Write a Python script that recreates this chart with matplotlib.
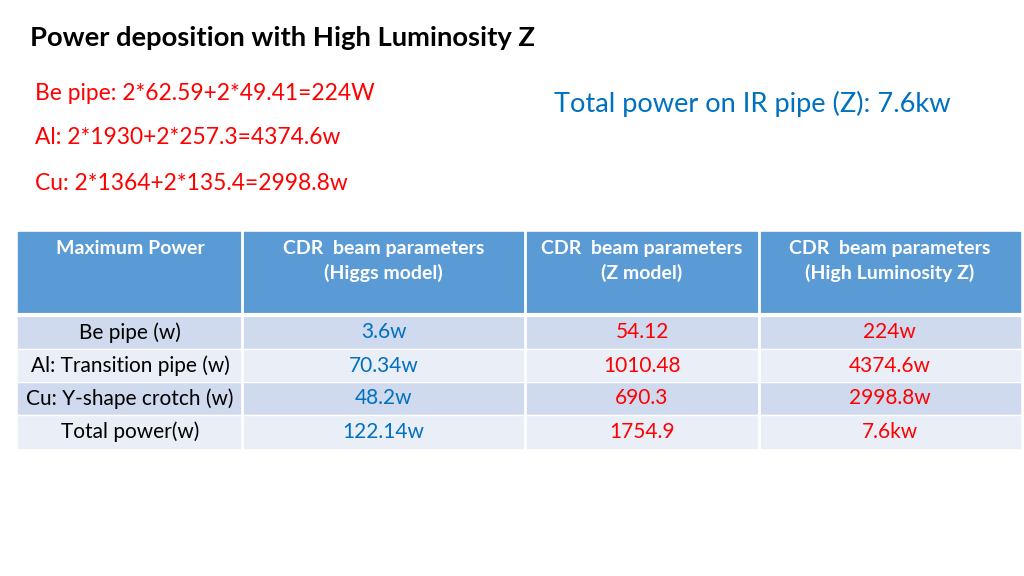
import matplotlib
matplotlib.use("Agg")
import matplotlib.pyplot as plt
from matplotlib.patches import Rectangle

title = "Power deposition with High Luminosity Z"
notes = ["Be pipe: 2*62.59+2*49.41=224W", "Al: 2*1930+2*257.3=4374.6w", "Cu: 2*1364+2*135.4=2998.8w"]
total_note = "Total power on IR pipe (Z): 7.6kw"
headers = ["CDR  beam parameters\n(Higgs model)", "CDR  beam parameters\n(Z model)", "CDR  beam parameters\n(High Luminosity Z)"]
first_header = "Maximum Power"
row_labels = ["Be pipe (w)", "Al: Transition pipe (w)", "Cu: Y-shape crotch (w)", "Total power(w)"]
higgs = ["3.6w", "70.34w", "48.2w", "122.14w"]
zmodel = ["54.12", "1010.48", "690.3", "1754.9"]
hlz = ["224w", "4374.6w", "2998.8w", "7.6kw"]

FONT = "Lato"
fig = plt.figure(figsize=(10.24, 5.76), dpi=100)
ax = fig.add_axes([0, 0, 1, 1])
ax.set_xlim(0, 1024); ax.set_ylim(576, 0); ax.axis("off")

ax.text(30, 38, title, fontsize=19.7, fontweight="bold", family=FONT, va="center")
for i, n in enumerate(notes):
    ax.text(35, 93 + i * 45, n, fontsize=16.4, color="#FF0000", family=FONT, va="center")
ax.text(554, 104, total_note, fontsize=19.6, color="#0070C0", family=FONT, va="center")

xs = [18, 242, 525, 759, 1020]
ax.add_patch(Rectangle((xs[0], 232), xs[-1] - xs[0], 82, color="#5B9BD5"))
ax.text((xs[0] + xs[1]) / 2, 248, first_header, fontsize=14, color="white", fontweight="bold",
        family=FONT, ha="center", va="center")
for j, h in enumerate(headers):
    ax.text((xs[j + 1] + xs[j + 2]) / 2, 261, h, fontsize=14, color="white", fontweight="bold",
            family=FONT, ha="center", va="center", linespacing=1.45)
ys = [316, 349, 382, 415, 448]
cols = [row_labels, higgs, zmodel, hlz]
colors = ["black", "#0070C0", "#FF0000", "#FF0000"]
for r in range(4):
    ax.add_patch(Rectangle((xs[0], ys[r]), xs[-1] - xs[0], ys[r + 1] - ys[r],
                           color="#CFDAEE" if r % 2 == 0 else "#E9EEF7"))
    for j in range(4):
        ax.text((xs[j] + xs[j + 1]) / 2, (ys[r] + ys[r + 1]) / 2, cols[j][r], fontsize=15,
                color=colors[j], family=FONT, ha="center", va="center")
for x in xs[1:-1]:
    ax.plot([x, x], [232, 448], color="white", lw=2)
ax.plot([xs[0], xs[-1]], [315, 315], color="white", lw=3)
for y in ys[1:-1]:
    ax.plot([xs[0], xs[-1]], [y, y], color="white", lw=1)
fig.savefig("out.png", dpi=100)
